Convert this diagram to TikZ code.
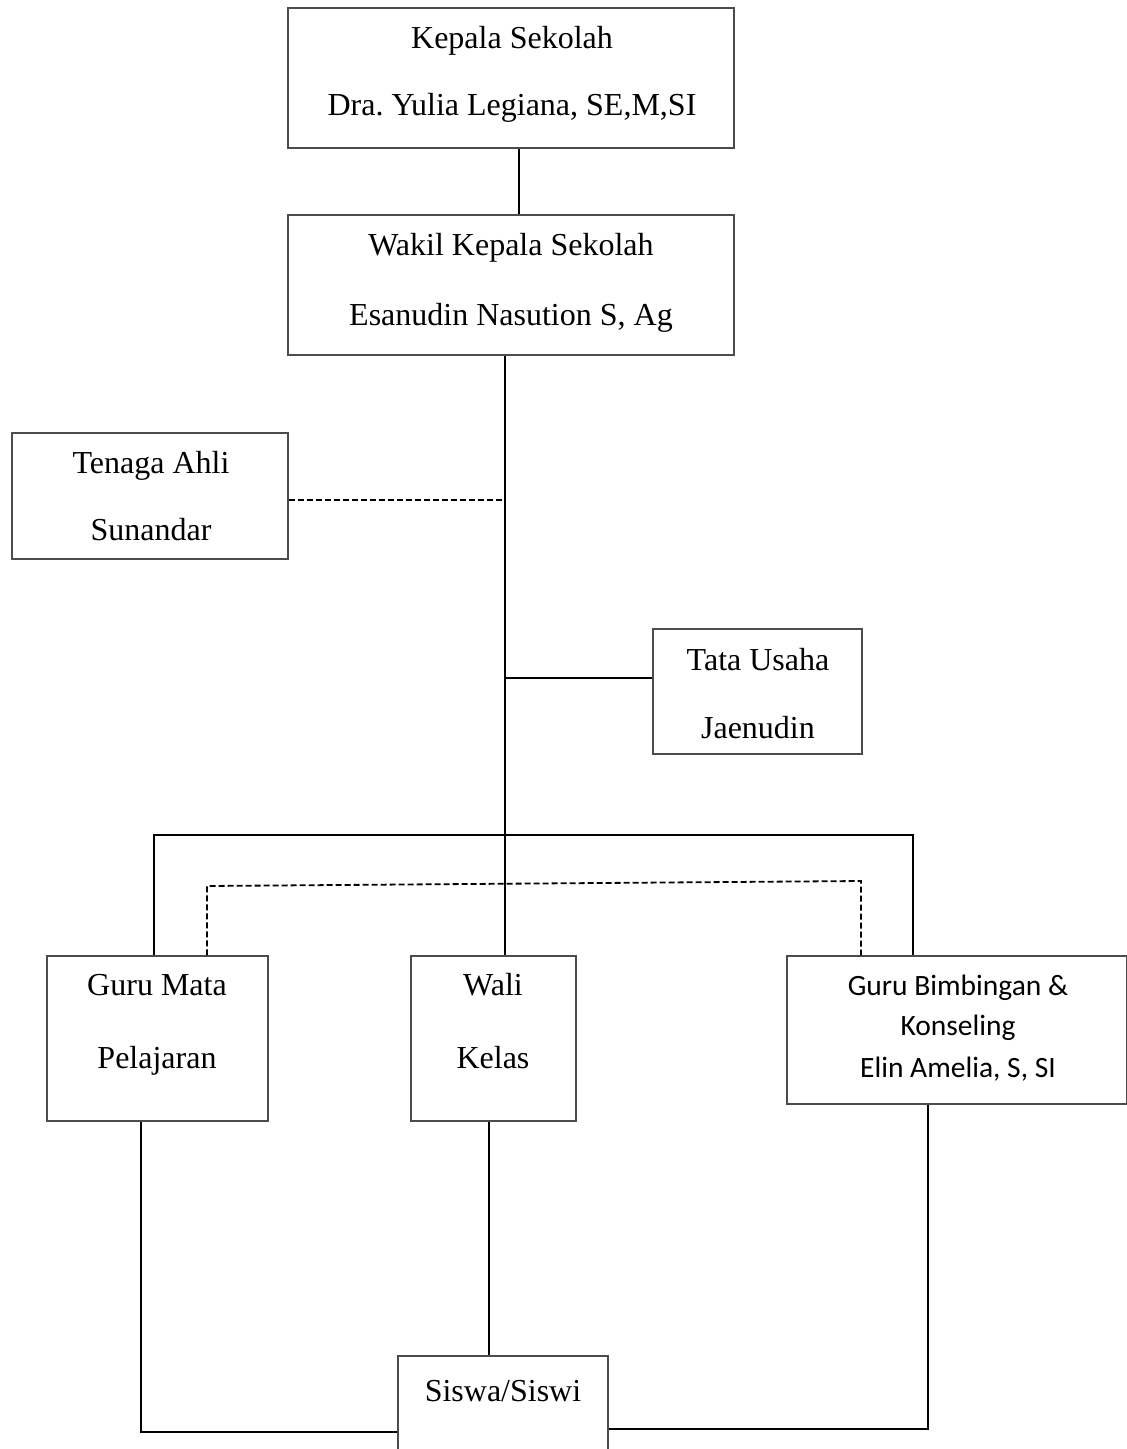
\documentclass[tikz,border=0pt]{standalone}
\usepackage{fontspec}
\setmainfont{Liberation Serif}
\newfontfamily\calib{Carlito}
\frenchspacing
\begin{document}
\begin{tikzpicture}[x=1pt,y=-1pt]
\tikzset{
  box/.style={draw=black!70, line width=1.2pt, inner sep=0pt, rectangle},
  conn/.style={line width=1.8pt},
  dconn/.style={line width=1.8pt, dash pattern=on 6pt off 3pt},
  txt/.style={font=\fontsize{32}{38}\selectfont, anchor=base, inner sep=0pt},
  stxt/.style={font=\calib\fontsize{29.5}{35}\selectfont, anchor=base, inner sep=0pt}
}
\clip (0,0) rectangle (1127,1449);
\fill[white] (0,0) rectangle (1127,1449);
% boxes
\node[box, minimum width=446pt, minimum height=140pt] (K) at (511,78) {};
\node[box, minimum width=446pt, minimum height=140pt] (W) at (511,285) {};
\node[box, minimum width=276pt, minimum height=126pt] (T) at (150,496) {};
\node[box, minimum width=209pt, minimum height=125pt] (TU) at (757.5,691.5) {};
\node[box, minimum width=221pt, minimum height=165pt] (GM) at (157.5,1038.5) {};
\node[box, minimum width=165pt, minimum height=165pt] (WK) at (493.5,1038.5) {};
\node[box, minimum width=340pt, minimum height=148pt] (BK) at (957,1030) {};
\node[box, minimum width=210pt, minimum height=110pt] (S) at (503,1411) {};
% texts
\node[txt] (k1) at (512,48) {Kepala Sekolah};
\node[txt] (k2) at (512,115) {Dra.\ Yulia Legiana, SE,M,SI};
\node[txt] (w1) at (511,255) {Wakil Kepala Sekolah};
\node[txt] (w2) at (511,325) {Esanudin Nasution S, Ag};
\node[txt] (t1) at (151,473) {Tenaga Ahli};
\node[txt] (t2) at (151,540) {Sunandar};
\node[txt] (tu1) at (758,670) {Tata Usaha};
\node[txt] (tu2) at (758,738) {Jaenudin};
\node[txt] (g1) at (157,995) {Guru Mata};
\node[txt] (g2) at (157,1068) {Pelajaran};
\node[txt] (wk1) at (493,995) {Wali};
\node[txt] (wk2) at (493,1068) {Kelas};
\node[stxt] (b1) at (958,995) {Guru Bimbingan \&};
\node[stxt] (b2) at (958,1035) {Konseling};
\node[stxt] (b3) at (958,1077) {Elin Amelia, S, SI};
\node[txt] (s1) at (503,1401) {Siswa/Siswi};
% coordinates
\coordinate (kx) at (519,0);
\coordinate (sp) at (505,0);
\coordinate (ty) at (0,500);
\coordinate (tuy) at (0,678);
\coordinate (bary) at (0,835);
\coordinate (gmL) at (154,0);
\coordinate (bkR) at (913,0);
\coordinate (dL) at (207,886);
\coordinate (dR) at (861,881);
\coordinate (gmB) at (141,1432);
\coordinate (wkx) at (489,0);
\coordinate (bkB) at (928,1429);
% connectors
\draw[conn] (K.south -| kx) -- (W.north -| kx);
\draw[conn] (W.south -| sp) -- (WK.north -| sp);
\draw[dconn] (T.east |- ty) -- (sp |- ty);
\draw[conn] (TU.west |- tuy) -- (sp |- tuy);
\draw[conn] (GM.north -| gmL) -- (gmL |- bary) -- (bkR |- bary) -- (BK.north -| bkR);
\draw[dconn] (GM.north -| dL) -- (dL) -- (dR) -- (BK.north -| dR);
\draw[conn] (GM.south -| gmB) -- (gmB) -- (S.west |- gmB);
\draw[conn] (WK.south -| wkx) -- (S.north -| wkx);
\draw[conn] (BK.south -| bkB) -- (bkB) -- (S.east |- bkB);
\end{tikzpicture}
\end{document}
